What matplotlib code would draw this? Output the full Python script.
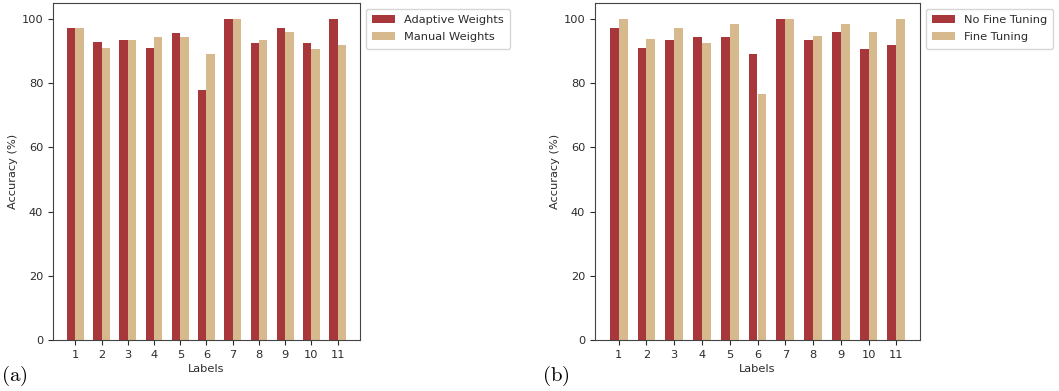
import matplotlib
matplotlib.use('Agg')
import matplotlib.pyplot as plt
import numpy as np

labels = ['1', '2', '3', '4', '5', '6', '7', '8', '9', '10', '11']

adaptive_weights = [97.3, 92.7, 93.5, 90.9, 95.8, 77.8, 100.0, 92.5, 97.3, 92.5, 100.0]
manual_weights = [97.3, 91.1, 93.5, 94.5, 94.5, 89.2, 100.0, 93.5, 96.1, 90.7, 91.8]

no_fine_tuning = [97.3, 91.1, 93.5, 94.5, 94.5, 89.2, 100.0, 93.5, 96.1, 90.7, 91.8]
fine_tuning = [100.0, 93.9, 97.3, 92.5, 98.6, 76.8, 100.0, 94.7, 98.6, 96.1, 100.0]

RED = '#a7373a'
TAN = '#d7b98e'
FS = 8.2

plt.rcParams['mathtext.fontset'] = 'cm'
plt.rcParams['text.color'] = '#2b2b2b'
plt.rcParams['axes.labelcolor'] = '#2b2b2b'
plt.rcParams['xtick.color'] = '#2b2b2b'
plt.rcParams['ytick.color'] = '#2b2b2b'
plt.rcParams['axes.edgecolor'] = '#444444'

fig = plt.figure(figsize=(10.59, 3.91), dpi=100)

x = np.arange(1, len(labels) + 1)
w = 0.32


def draw(ax, a, b, name_a, name_b):
    ax.bar(x - w / 2, a, w, color=RED, label=name_a)
    ax.bar(x + w / 2, b, w, color=TAN, label=name_b)
    ax.set_xticks(x)
    ax.set_xticklabels(labels, fontsize=FS)
    ax.set_yticks([0, 20, 40, 60, 80, 100])
    ax.tick_params(axis='y', labelsize=FS)
    ax.set_xlabel('Labels', fontsize=FS, labelpad=3)
    ax.set_ylabel('Accuracy (%)', fontsize=FS, labelpad=2.5)
    ax.legend(loc='upper left', bbox_to_anchor=(1.0, 1.0), fontsize=FS,
              labelspacing=0.65, borderpad=0.55)


ax1 = fig.add_axes([53 / 1059, 51 / 391, 307 / 1059, 337 / 391])
draw(ax1, adaptive_weights, manual_weights, 'Adaptive Weights', 'Manual Weights')

ax2 = fig.add_axes([595 / 1059, 51 / 391, 325 / 1059, 337 / 391])
draw(ax2, no_fine_tuning, fine_tuning, 'No Fine Tuning', 'Fine Tuning')

fig.text(1 / 1059, 15 / 391, r'$\mathrm{(a)}$', fontsize=15, color='black', va='center')
fig.text(542 / 1059, 15 / 391, r'$\mathrm{(b)}$', fontsize=15, color='black', va='center')

fig.savefig('out.png', dpi=100)
